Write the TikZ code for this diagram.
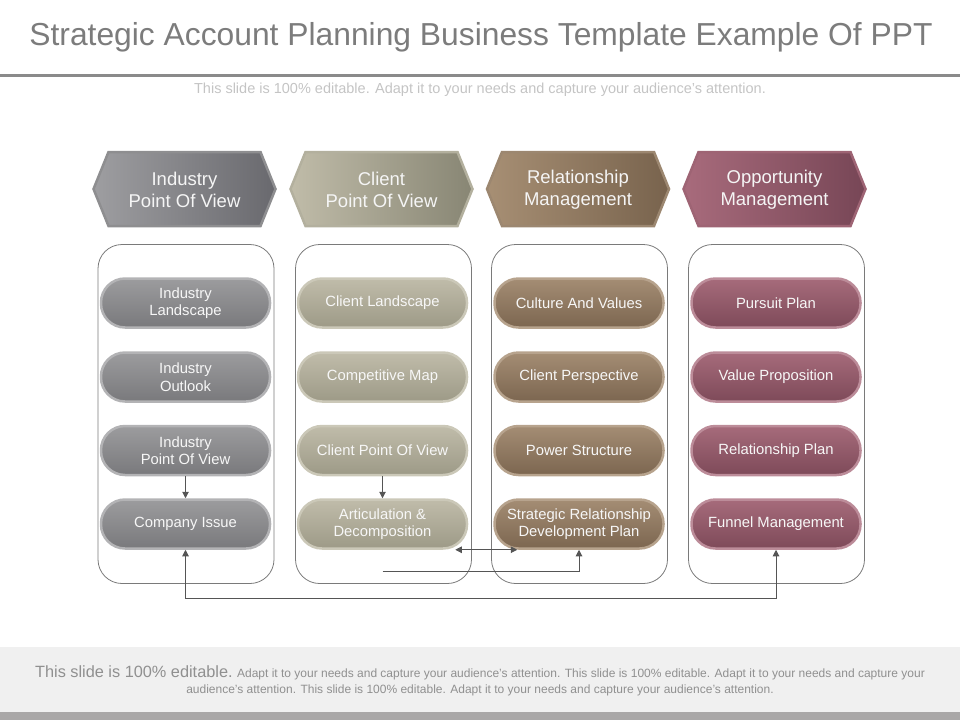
\documentclass[tikz,border=0pt]{standalone}
\usepackage{fontspec}
\setmainfont{Liberation Sans}
\usetikzlibrary{arrows.meta,calc}
\definecolor{titlegray}{HTML}{7C7C7C}
\definecolor{rulegray}{HTML}{8A8A8A}
\definecolor{subgray}{HTML}{C4C4C4}
\definecolor{panelgray}{HTML}{7A7A7A}
\definecolor{arrowgray}{HTML}{555555}
\definecolor{footbg}{HTML}{F0F0F0}
\definecolor{footstrip}{HTML}{A9A7A7}
\definecolor{hAl}{HTML}{9E9EA1}\definecolor{hAr}{HTML}{69696E}\definecolor{hAb}{HTML}{8E8E90}
\definecolor{hBl}{HTML}{C0BCA9}\definecolor{hBr}{HTML}{888674}\definecolor{hBb}{HTML}{B3B09E}
\definecolor{hCl}{HTML}{A78F74}\definecolor{hCr}{HTML}{78634D}\definecolor{hCb}{HTML}{9C8770}
\definecolor{hDl}{HTML}{A86B7C}\definecolor{hDr}{HTML}{774656}\definecolor{hDb}{HTML}{9E6474}
\definecolor{pAt}{HTML}{9C9C9E}\definecolor{pAb}{HTML}{79797C}\definecolor{pAd}{HTML}{B3B3B5}
\definecolor{pBt}{HTML}{C0BCAA}\definecolor{pBb}{HTML}{9D9A87}\definecolor{pBd}{HTML}{CBC8B8}
\definecolor{pCt}{HTML}{A48D74}\definecolor{pCb}{HTML}{7C6650}\definecolor{pCd}{HTML}{B7A38D}
\definecolor{pDt}{HTML}{A66B7B}\definecolor{pDb}{HTML}{7E4A59}\definecolor{pDd}{HTML}{BC8C99}
\newcommand\myhex[6]{%
  \draw[draw=#5,line width=2.5pt,left color=#3,right color=#4]
    (#1-91,189) -- (#1-76,152) -- (#1+76,152) -- (#1+91,189) -- (#1+76,226) -- (#1-76,226) -- cycle;
  \node[hextext] (#2) at (#1,190) {#6};}
\begin{document}
\begin{tikzpicture}[x=1pt,y=-1pt,
  hextext/.style={text=white!96!black,align=center,font=\fontsize{18.5}{22}\selectfont},
  pill/.style={rounded corners=24pt,minimum width=169pt,minimum height=49pt,line width=2.5pt,
    text=white!97!black,align=center,inner sep=0pt,font=\fontsize{14.8}{17.5}\selectfont},
  pillA/.style={pill,draw=pAd,top color=pAt,bottom color=pAb},
  pillB/.style={pill,draw=pBd,top color=pBt,bottom color=pBb},
  pillC/.style={pill,draw=pCd,top color=pCt,bottom color=pCb},
  pillD/.style={pill,draw=pDd,top color=pDt,bottom color=pDb},
  panel/.style={draw=panelgray,line width=0.8pt,rounded corners=24pt,minimum width=176pt,minimum height=339pt,inner sep=0pt},
  arr/.style={draw=arrowgray,line width=1pt,-{Triangle[length=6.5pt,width=6.5pt]}},
  darr/.style={draw=arrowgray,line width=1pt,{Triangle[length=6.5pt,width=6.5pt]}-{Triangle[length=6.5pt,width=6.5pt]}}]
\useasboundingbox (0,0) rectangle (960,720);
% header
\node[text=titlegray,font=\fontsize{31.8}{36}\selectfont] (title) at (481,37) {Strategic Account Planning Business Template Example Of PPT};
\draw[rulegray,line width=3pt] (0,75) -- (960,75);
\node[text=subgray,font=\fontsize{14.5}{16}\selectfont] (sub) at (480,90) {This slide is 100\% editable. Adapt it to your needs and capture your audience's attention.};
% footer
\fill[footbg] (0,647) rectangle (960,712);
\fill[footstrip] (0,712) rectangle (960,720);
\node[text=titlegray!85,align=center,font=\fontsize{12}{15.5}\selectfont] (foot) at (480,681)
  {{\fontsize{16.3}{15}\selectfont This slide is 100\% editable.} Adapt it to your needs and capture your audience's attention. This slide is 100\% editable. Adapt it to your needs and capture your\\
   audience's attention. This slide is 100\% editable. Adapt it to your needs and capture your audience's attention.};
% hexagons
\myhex{184.5}{h1}{hAl}{hAr}{hAb}{Industry\\Point Of View}
\myhex{381.5}{h2}{hBl}{hBr}{hBb}{Client\\Point Of View}
\myhex{578}{h3}{hCl}{hCr}{hCb}{Relationship\\Management}
\myhex{774.5}{h4}{hDl}{hDr}{hDb}{Opportunity\\Management}
% panels
\node[panel] (p1) at (186,414) {};
\node[panel] (p2) at (383.5,414) {};
\node[panel] (p3) at (579.5,414) {};
\node[panel] (p4) at (776.5,414) {};
% pills column 1
\node[pillA] (a1) at (185.5,303) {Industry\\Landscape};
\node[pillA] (a2) at (185.5,377) {Industry\\Outlook};
\node[pillA] (a3) at (185.5,450.5) {Industry\\Point Of View};
\node[pillA] (a4) at (185.5,524) {Company Issue};
% column 2
\node[pillB] (b1) at (382.5,303) {Client Landscape};
\node[pillB] (b2) at (382.5,377) {Competitive Map};
\node[pillB] (b3) at (382.5,450.5) {Client Point Of View};
\node[pillB] (b4) at (382.5,524) {Articulation \&\\Decomposition};
% column 3
\node[pillC] (c1) at (579,303) {Culture And Values};
\node[pillC] (c2) at (579,377) {Client Perspective};
\node[pillC] (c3) at (579,450.5) {Power Structure};
\node[pillC] (c4) at (579,524) {Strategic Relationship\\Development Plan};
% column 4
\node[pillD] (d1) at (776,303) {Pursuit Plan};
\node[pillD] (d2) at (776,377) {Value Proposition};
\node[pillD] (d3) at (776,450.5) {Relationship Plan};
\node[pillD] (d4) at (776,524) {Funnel Management};
% connectors
\draw[arr] (a3.south) -- (a4.north);
\draw[arr] (b3.south) -- (b4.north);
\draw[darr] ([xshift=-13pt]b4.south east) -- ([xshift=24pt]c4.south west);
\coordinate (cs) at (382.5,571);
\draw[arr] (cs) -| (c4.south);
\draw[darr] (a4.south) |- (185.5,598) -| (d4.south);
\end{tikzpicture}
\end{document}
